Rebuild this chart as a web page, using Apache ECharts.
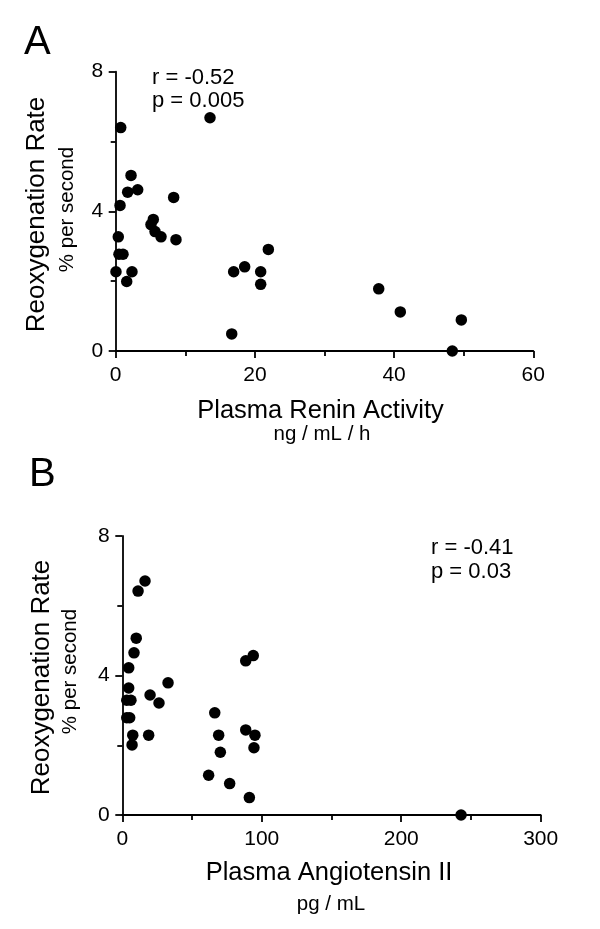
<!DOCTYPE html>
<html>
<head>
<meta charset="utf-8">
<script src="https://cdn.jsdelivr.net/npm/echarts@6/dist/echarts.min.js"></script>
<style>
html,body{margin:0;padding:0;background:#fff;}
#chart{width:600px;height:929px;}
</style>
</head>
<body>
<div id="chart"></div>
<script>
// Panel A: Plasma Renin Activity (ng/mL/h) vs Reoxygenation Rate (% per second)
var reninActivity = [0.72, 13.55, 2.2, 1.72, 3.16, 0.62, 8.33, 5.4, 5.07, 5.65, 6.51, 8.66, 0.37, 0.47, 1.05, 0.04, 2.34, 1.58, 16.95, 18.53, 20.83, 20.83, 21.93, 16.67, 37.79, 40.89, 49.66, 48.36];
var reoxRateA    = [6.40, 6.68, 5.03, 4.55, 4.62, 4.17, 4.40, 3.77, 3.62, 3.42, 3.27, 3.19, 3.27, 2.77, 2.77, 2.27, 2.27, 1.99, 2.27, 2.41, 2.27, 1.91, 2.91, 0.49, 1.78, 1.12, 0.89, 0.0];

// Panel B: Plasma Angiotensin II (pg/mL) vs Reoxygenation Rate (% per second)
var angiotensinII = [16.3, 11.3, 10.0, 8.4, 4.6, 4.6, 3.2, 6.2, 3.2, 5.3, 7.5, 7.0, 18.9, 19.9, 26.3, 32.8, 88.5, 93.9, 66.3, 69.1, 70.3, 88.5, 95.1, 94.4, 61.9, 77.0, 91.1, 242.9];
var reoxRateB     = [6.71, 6.42, 5.07, 4.65, 4.22, 3.64, 3.29, 3.29, 2.79, 2.79, 2.29, 2.01, 2.29, 3.44, 3.21, 3.79, 4.42, 4.57, 2.93, 2.29, 1.80, 2.44, 2.29, 1.93, 1.14, 0.90, 0.50, 0.0];

var xTicksA = [0, 20, 40, 60];
var xTicksB = [0, 100, 200, 300];
var yTicks = [0, 4, 8];

var statsA = ['r = -0.52', 'p = 0.005'];
var statsB = ['r = -0.41', 'p = 0.03'];

var FONT = '"Liberation Sans", Arial, Helvetica, sans-serif';

function pairs(xs, ys) {
  var out = [];
  for (var i = 0; i < xs.length; i++) out.push([xs[i], ys[i]]);
  return out;
}

function axisDef(gridIndex, ticks, labelMargin) {
  return {
    type: 'value', gridIndex: gridIndex,
    min: ticks[0], max: ticks[ticks.length - 1], interval: ticks[1] - ticks[0],
    axisLine: {show: true, onZero: false, lineStyle: {color: '#000', width: 1.8}},
    axisTick: {show: true, inside: false, length: 7, lineStyle: {color: '#000', width: 1.8}},
    minorTick: {show: true, splitNumber: 2, length: 5, lineStyle: {color: '#000', width: 1.8}},
    splitLine: {show: false},
    minorSplitLine: {show: false},
    axisLabel: {color: '#000', fontFamily: FONT, fontSize: 21, margin: labelMargin}
  };
}

function txt(x, y, text, size, opts) {
  opts = opts || {};
  return {
    type: 'text', x: x, y: y, rotation: opts.rotation || 0,
    style: {
      text: text, fill: '#000',
      font: size + 'px ' + FONT,
      textAlign: opts.align || 'center',
      textVerticalAlign: 'middle'
    }
  };
}

var dotStyle = {color: '#000', opacity: 1};

var chart = echarts.init(document.getElementById('chart'), null, {renderer: 'canvas'});
chart.setOption({
  animation: false,
  backgroundColor: '#fff',
  grid: [
    {left: 115.7, top: 71.7, width: 417.6, height: 279.3},
    {left: 122.3, top: 536, width: 418.4, height: 279}
  ],
  xAxis: [axisDef(0, xTicksA, 14), axisDef(1, xTicksB, 14)],
  yAxis: [axisDef(0, yTicks, 12.5), axisDef(1, yTicks, 12.5)],
  series: [
    {type: 'scatter', xAxisIndex: 0, yAxisIndex: 0, data: pairs(reninActivity, reoxRateA),
     symbol: 'circle', symbolSize: 11.5, itemStyle: dotStyle, clip: false},
    {type: 'scatter', xAxisIndex: 1, yAxisIndex: 1, data: pairs(angiotensinII, reoxRateB),
     symbol: 'circle', symbolSize: 11.5, itemStyle: dotStyle, clip: false}
  ],
  graphic: [
    // panel letters
    txt(24, 43, 'A', 40, {align: 'left'}),
    txt(29, 475, 'B', 40, {align: 'left'}),
    // panel A axis titles
    txt(37.3, 214.5, 'Reoxygenation Rate', 26, {rotation: Math.PI / 2}),
    txt(67.3, 209.5, '% per second', 20.5, {rotation: Math.PI / 2}),
    txt(320.5, 411, 'Plasma Renin Activity', 25.5),
    txt(322, 434, 'ng / mL / h', 20.5),
    // panel A stats
    txt(152, 77.5, statsA[0], 22, {align: 'left'}),
    txt(152, 101, statsA[1], 22, {align: 'left'}),
    // panel B axis titles
    txt(42.3, 677.5, 'Reoxygenation Rate', 26, {rotation: Math.PI / 2}),
    txt(70.3, 671.5, '% per second', 20.5, {rotation: Math.PI / 2}),
    txt(329, 872.5, 'Plasma Angiotensin II', 25.5),
    txt(331, 904.5, 'pg / mL', 20.5),
    // panel B stats
    txt(431, 547.5, statsB[0], 22, {align: 'left'}),
    txt(431, 572.3, statsB[1], 22, {align: 'left'})
  ]
});
</script>
</body>
</html>
